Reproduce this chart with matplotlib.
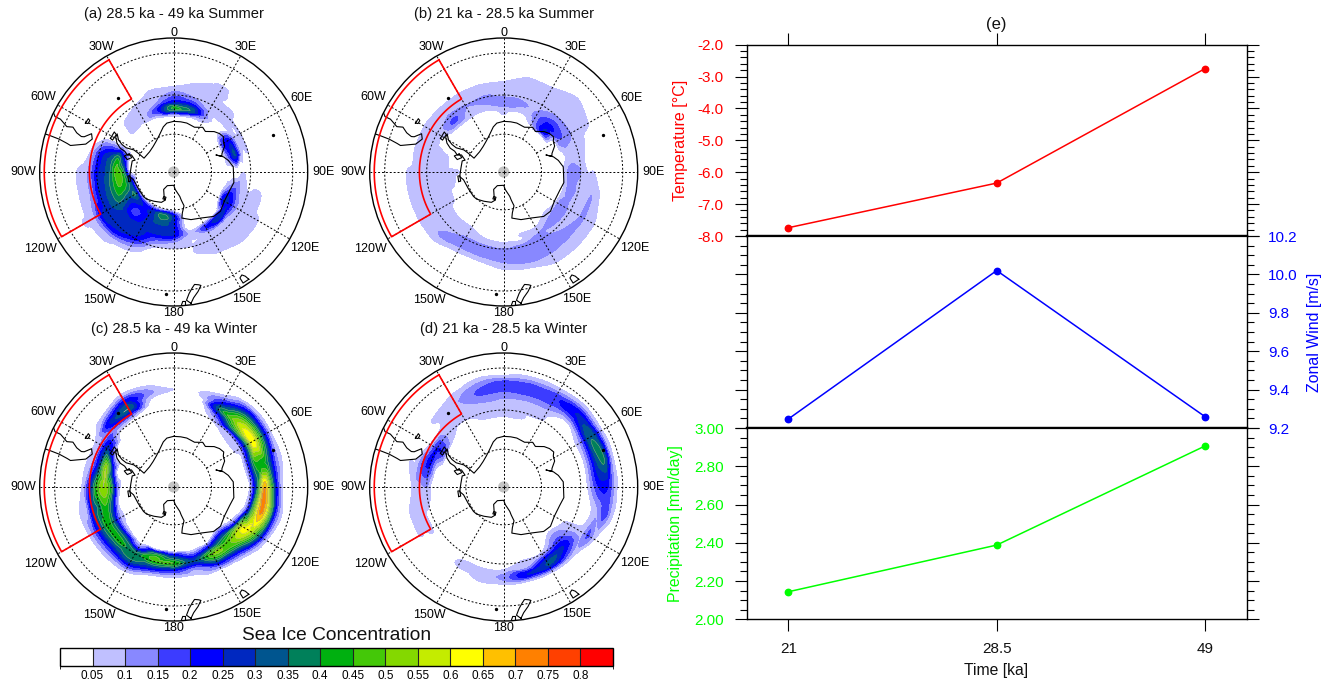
import numpy as np
import matplotlib
matplotlib.use('Agg')
import matplotlib.pyplot as plt
from matplotlib.colors import ListedColormap, BoundaryNorm
from matplotlib.colorbar import ColorbarBase
from matplotlib.patches import Circle
from matplotlib.ticker import MultipleLocator
from matplotlib.tri import Triangulation, UniformTriRefiner, CubicTriInterpolator

plt.rcParams['font.family'] = ['Liberation Sans', 'DejaVu Sans']

W, H = 1334, 682

# sea ice values in percent: one line per longitude (0, 15, ... 345 E),
# one column per latitude (-72.5, -70, ... -47.5)
lons = np.arange(0, 360, 15)
lats = np.array([-75, -72.5, -70, -67.5, -65, -62.5, -60, -57.5, -55, -52.5, -50, -47.5, -45])

sic_a = [
    [0, 0, 8, 42, 22, 14, 7, 0, 0, 0, 0],
    [0, 0, 6, 35, 20, 10, 7, 6, 0, 0, 0],
    [0, 0, 5, 12, 8, 7, 6, 8, 6, 0, 0],
    [0, 0, 0, 0, 7, 6, 5, 0, 0, 0, 0],
    [0, 0, 20, 22, 6, 5, 0, 0, 0, 0, 0],
    [0, 0, 15, 30, 6, 5, 0, 0, 0, 0, 0],
    [0, 0, 0, 0, 5, 0, 0, 0, 0, 0, 0],
    [0, 0, 10, 15, 7, 5, 6, 5, 0, 0, 0],
    [0, 0, 25, 24, 12, 6, 6, 6, 5, 0, 0],
    [0, 0, 0, 30, 8, 6, 6, 6, 5, 0, 0],
    [0, 0, 0, 20, 7, 6, 6, 6, 0, 0, 0],
    [0, 0, 0, 8, 5, 5, 5, 0, 0, 0, 0],
    [25, 25, 25, 24, 10, 5, 0, 0, 0, 0, 0],
    [38, 33, 28, 26, 15, 6, 0, 0, 0, 0, 0],
    [25, 25, 26, 27, 27, 22, 12, 5, 0, 0, 0],
    [25, 20, 18, 25, 28, 27, 22, 9, 5, 0, 0],
    [35, 30, 33, 34, 30, 27, 24, 10, 6, 5, 0],
    [30, 42, 45, 37, 30, 26, 13, 7, 5, 0, 0],
    [5, 40, 48, 35, 28, 23, 12, 7, 5, 0, 0],
    [0, 20, 38, 30, 25, 18, 7, 0, 0, 0, 0],
    [0, 0, 0, 0, 0, 0, 0, 0, 0, 0, 0],
    [0, 0, 6, 6, 5, 0, 0, 0, 0, 0, 0],
    [0, 0, 5, 7, 6, 5, 0, 0, 0, 0, 0],
    [0, 0, 6, 20, 10, 6, 6, 0, 0, 0, 0],
]
sic_b = [
    [0, 0, 5, 8, 15, 8, 6, 5, 0, 0, 0],
    [0, 0, 0, 7, 11, 8, 6, 5, 5, 0, 0],
    [0, 0, 10, 12, 10, 7, 6, 6, 5, 0, 0],
    [0, 0, 25, 22, 16, 10, 6, 6, 6, 5, 0],
    [0, 0, 0, 14, 13, 10, 6, 6, 5, 0, 0],
    [0, 0, 0, 5, 7, 6, 5, 0, 0, 0, 0],
    [0, 0, 0, 10, 13, 10, 5, 5, 0, 0, 0],
    [0, 0, 0, 8, 15, 6, 6, 10, 6, 0, 0],
    [0, 0, 0, 11, 11, 8, 6, 11, 6, 5, 0],
    [0, 0, 5, 10, 12, 7, 11, 11, 6, 5, 0],
    [0, 0, 0, 5, 10, 12, 13, 13, 6, 5, 0],
    [0, 0, 0, 5, 5, 12, 14, 12, 7, 0, 0],
    [0, 0, 0, 0, 5, 10, 14, 10, 5, 0, 0],
    [0, 0, 0, 0, 6, 11, 13, 7, 0, 0, 0],
    [0, 0, 0, 5, 6, 11, 12, 7, 0, 0, 0],
    [0, 0, 0, 5, 6, 6, 10, 10, 5, 0, 0],
    [0, 0, 5, 6, 6, 6, 6, 6, 5, 0, 0],
    [0, 5, 6, 6, 6, 6, 6, 6, 5, 0, 0],
    [5, 6, 6, 6, 6, 6, 6, 6, 5, 0, 0],
    [0, 0, 5, 6, 6, 6, 6, 6, 0, 0, 0],
    [0, 0, 0, 0, 5, 6, 6, 6, 0, 0, 0],
    [0, 0, 0, 5, 16, 12, 6, 5, 0, 0, 0],
    [0, 0, 0, 5, 8, 10, 6, 5, 0, 0, 0],
    [0, 0, 0, 5, 10, 11, 6, 5, 0, 0, 0],
]
sic_c = [
    [0, 0, 0, 0, 0, 0, 0, 0, 5, 0, 0],
    [0, 0, 0, 0, 0, 0, 0, 0, 5, 0, 0],
    [0, 0, 0, 0, 0, 5, 15, 35, 20, 6, 0],
    [0, 0, 0, 0, 5, 10, 40, 55, 45, 25, 6],
    [0, 0, 0, 0, 5, 10, 35, 65, 50, 25, 5],
    [0, 0, 0, 0, 0, 15, 40, 42, 35, 15, 5],
    [0, 0, 0, 0, 0, 8, 35, 70, 45, 15, 0],
    [0, 0, 0, 0, 0, 15, 50, 72, 55, 20, 5],
    [0, 0, 0, 0, 15, 55, 62, 55, 35, 10, 0],
    [0, 0, 0, 15, 35, 48, 45, 25, 8, 0, 0],
    [0, 0, 0, 0, 25, 50, 38, 15, 0, 0, 0],
    [0, 0, 0, 0, 15, 30, 12, 5, 0, 0, 0],
    [0, 0, 0, 0, 30, 45, 20, 5, 0, 0, 0],
    [0, 0, 0, 0, 42, 45, 25, 6, 0, 0, 0],
    [0, 0, 0, 0, 15, 38, 36, 20, 5, 0, 0],
    [0, 0, 0, 10, 35, 42, 30, 15, 5, 0, 0],
    [0, 0, 5, 15, 37, 42, 30, 15, 5, 0, 0],
    [0, 0, 5, 30, 45, 37, 28, 7, 5, 0, 0],
    [0, 0, 15, 45, 55, 45, 25, 7, 0, 0, 0],
    [0, 0, 0, 25, 55, 30, 12, 5, 0, 0, 0],
    [0, 0, 0, 0, 15, 28, 12, 5, 0, 0, 0],
    [0, 0, 0, 0, 0, 5, 15, 25, 10, 0, 0],
    [0, 0, 0, 0, 0, 0, 15, 35, 25, 8, 0],
    [0, 0, 0, 0, 0, 0, 0, 5, 12, 5, 0],
]
sic_d = [
    [0, 0, 0, 0, 5, 6, 8, 11, 16, 17, 5],
    [0, 0, 0, 0, 5, 6, 7, 11, 17, 17, 7],
    [0, 0, 0, 0, 0, 5, 6, 11, 17, 18, 7],
    [0, 0, 0, 0, 0, 0, 0, 5, 18, 25, 10],
    [0, 0, 0, 0, 0, 0, 5, 15, 33, 30, 8],
    [0, 0, 0, 0, 0, 0, 5, 18, 32, 35, 8],
    [0, 0, 0, 0, 0, 0, 5, 15, 22, 20, 7],
    [0, 0, 0, 0, 0, 0, 0, 5, 10, 18, 6],
    [0, 0, 0, 0, 5, 6, 7, 8, 16, 5, 0],
    [0, 0, 0, 5, 12, 18, 25, 18, 6, 0, 0],
    [0, 0, 0, 0, 0, 7, 25, 30, 6, 0, 0],
    [0, 0, 0, 0, 0, 6, 8, 25, 5, 0, 0],
    [0, 0, 0, 0, 0, 0, 6, 12, 5, 0, 0],
    [0, 0, 0, 0, 0, 0, 5, 8, 5, 0, 0],
    [0, 0, 0, 0, 0, 0, 5, 6, 0, 0, 0],
    [0, 0, 0, 0, 0, 0, 0, 0, 0, 0, 0],
    [0, 0, 0, 0, 0, 0, 6, 5, 5, 0, 0],
    [0, 0, 0, 0, 0, 5, 6, 6, 5, 0, 0],
    [0, 0, 0, 0, 0, 10, 8, 6, 0, 0, 0],
    [0, 0, 0, 0, 5, 20, 17, 6, 5, 0, 0],
    [0, 0, 0, 0, 18, 20, 7, 0, 0, 0, 0],
    [0, 0, 0, 0, 5, 7, 6, 5, 6, 0, 0],
    [0, 0, 0, 0, 0, 5, 6, 8, 9, 6, 0],
    [0, 0, 0, 0, 5, 6, 8, 12, 16, 12, 5],
]

panel_titles = ['(a) 28.5 ka - 49 ka Summer', '(b) 21 ka - 28.5 ka Summer',
                '(c) 28.5 ka - 49 ka Winter', '(d) 21 ka - 28.5 ka Winter']
panel_fields = [sic_a, sic_b, sic_c, sic_d]
panel_centers = [(173.7, 172), (503.7, 172), (173.7, 487), (503.7, 487)]
map_radius = 134

lon_labels = ['0', '30E', '60E', '90E', '120E', '150E', '180', '150W', '120W', '90W', '60W', '30W']
lon_label_r = [1.04, 1.075, 1.10, 1.12, 1.13, 1.095, 1.05, 1.105, 1.15, 1.12, 1.12, 1.08]

level_values = [0.05, 0.1, 0.15, 0.2, 0.25, 0.3, 0.35, 0.4, 0.45, 0.5, 0.55, 0.6, 0.65, 0.7, 0.75, 0.8]
level_labels = ['0.05', '0.1', '0.15', '0.2', '0.25', '0.3', '0.35', '0.4', '0.45', '0.5', '0.55',
                '0.6', '0.65', '0.7', '0.75', '0.8']
ice_colors = ['#FFFFFF', '#C0C0FF', '#8888FF', '#3C3CFF', '#0000FF', '#0028C0', '#00558F', '#00805A',
              '#00B010', '#44C808', '#84D800', '#C4EC00', '#FFFF00', '#FFC000', '#FF8000', '#FF4000', '#FF0000']

# coastlines, degrees
ant_lon = [0, 8, 15, 25, 33, 38, 45, 50, 55, 58, 63, 69, 72, 68, 73, 78, 85, 90, 100, 108, 120, 130, 138, 150, 160,
           170, 168, 163, 165, 166, 175, 180, -155, -150, -160, -163, -158, -146, -135, -129, -115, -101, -96,
           -85, -75, -73, -68, -70, -67, -66, -63, -59, -56, -60, -62, -63, -61, -62, -65, -50, -39, -30, -22, -13,
           -8, 0]
ant_lat = [-70, -70, -70, -70.5, -69, -69.7, -67.5, -66.5, -66, -67, -67.5, -69.6, -70, -72, -69.5, -68, -66.5,
           -66.5, -66, -66.8, -67, -66, -66.5, -69, -70, -71.5, -73.5, -76, -78.5, -80, -83, -84.7, -84, -82,
           -79, -78.3, -77, -76, -74.8, -74.6, -74.5, -73.8, -72.5, -73, -73, -74, -72, -70.5, -69, -67, -65,
           -63.5, -63.3, -65, -67, -69, -72, -74, -77, -77.5, -77, -76, -74.5, -71.7, -70.5, -70]
sam_lon = [-63.7, -65, -65, -67, -66, -68, -69, -68.5, -65, -68, -72.4, -75.6, -75, -74, -73.6, -73.5]
sam_lat = [-40, -41, -43, -46, -48, -50, -52, -53, -55, -56, -54.4, -49.3, -48, -45, -41.7, -40]
nz_lon = [172.5, 174.3, 172.8, 171, 169.5, 167.5, 166.5, 168.5, 171, 172.5]
nz_lat = [-40.5, -41.7, -43.8, -45.5, -46.6, -46.2, -45.8, -44, -42.2, -40.5]
nzn_lon = [174.8, 176, 176.8, 175, 174.8]
nzn_lat = [-41.3, -41.4, -40, -39.5, -41.3]
tas_lon = [145, 148, 148, 146.5, 145.5, 145]
tas_lat = [-41, -41, -43, -43.5, -42.5, -41]
fal_lon = [-61, -58, -58.5, -60.5, -61]
fal_lat = [-51.3, -51.4, -52.2, -52.2, -51.3]
# small loops by the Antarctic coast: Alexander, Thurston, Roosevelt, King George
alx_lon = [-68, -72, -75, -71, -68]
alx_lat = [-71, -69.5, -71, -72.5, -71]
thu_lon = [-102, -95, -95, -102, -102]
thu_lat = [-71.8, -71.8, -72.6, -72.6, -71.8]
roo_lon = [-163, -158, -158, -163, -163]
roo_lat = [-78.5, -78.5, -79.5, -79.5, -78.5]
kgi_lon = [-62, -56, -57, -62.5, -62]
kgi_lat = [-62, -62, -63.2, -63, -62]
isl_lon = [-37, 69.6, -176.5]
isl_lat = [-54.3, -49.4, -44]

# red box on the maps
box_lon = [-30, -120]
box_lat = [-41.5, -57.3]

# panel (e)
time_labels = ['21', '28.5', '49']
temperature = [-7.74, -6.34, -2.75]
zonal_wind = [9.247, 10.02, 9.259]
precipitation = [2.144, 2.388, 2.906]


def px_axes(x0, y0, x1, y1):
    return fig.add_axes([x0 / W, 1 - y1 / H, (x1 - x0) / W, (y1 - y0) / H])


def polar_xy(lon, lat):
    lon = np.radians(np.asarray(lon, dtype=float))
    r = np.tan(np.radians(90 + np.asarray(lat, dtype=float)) / 2) / np.tan(np.radians(25))
    return r * np.sin(lon), r * np.cos(lon)


fig = plt.figure(figsize=(W / 100, H / 100), dpi=100)
fig.patch.set_facecolor('white')

coast_parts = [(ant_lon, ant_lat), (sam_lon, sam_lat), (nz_lon, nz_lat), (nzn_lon, nzn_lat), (tas_lon, tas_lat),
               (fal_lon, fal_lat), (alx_lon, alx_lat), (thu_lon, thu_lat), (roo_lon, roo_lat), (kgi_lon, kgi_lat)]

for title, field, (cx, cy) in zip(panel_titles, panel_fields, panel_centers):
    ax = px_axes(cx - map_radius, cy - map_radius, cx + map_radius, cy + map_radius)
    ax.set_xlim(-1, 1)
    ax.set_ylim(-1, 1)
    ax.axis('off')

    vals = np.pad(np.array(field, dtype=float) / 100, ((0, 0), (1, 1)))
    lon2, lat2 = np.meshgrid(lons, lats, indexing='ij')
    X, Y = polar_xy(lon2, lat2)
    tri = Triangulation(X.ravel(), Y.ravel())
    interp = CubicTriInterpolator(tri, vals.ravel(), kind='geom')
    tri_fine, vals_fine = UniformTriRefiner(tri).refine_field(vals.ravel(), triinterpolator=interp, subdiv=2)
    ax.tricontourf(tri_fine, vals_fine, levels=level_values + [1.0], colors=ice_colors[1:])
    ax.tricontour(tri_fine, vals_fine, levels=level_values[6:], colors='#9aa89a', linewidths=0.3)

    rim = Circle((0, 0), 1, transform=ax.transData, fc='none', ec='black', lw=1.0, zorder=6, clip_on=False)
    ax.add_patch(rim)
    ax.add_patch(Circle((0, 0), 0.042, fc='#c4c4c4', ec='none', zorder=3))

    # coast
    for clon, clat in coast_parts:
        xc, yc = polar_xy(clon, clat)
        line, = ax.plot(xc, yc, color='black', lw=0.8, zorder=4)
        line.set_clip_path(Circle((0, 0), 1, transform=ax.transData))
    xi, yi = polar_xy(isl_lon, isl_lat)
    ax.plot(xi, yi, 'o', color='black', ms=1.4, zorder=4)

    # grid
    for ring in [-75, -60, -45]:
        xr, yr = polar_xy(np.arange(0, 361, 3), np.full(121, ring))
        ax.plot(xr, yr, color='black', lw=0.7, ls=(0, (2, 2)), zorder=5)
    for i, lab in enumerate(lon_labels):
        lon = i * 30
        inner = -90 if lon % 90 == 0 else -75
        xg, yg = polar_xy([lon, lon], [inner, -40])
        ax.plot(xg, yg, color='black', lw=0.7, ls=(0, (2, 2)), zorder=5)
        xt, yt = polar_xy(lon, -40)
        ax.text(xt * lon_label_r[i], yt * lon_label_r[i], lab, ha='center', va='center', fontsize=9, clip_on=False)

    # red box
    bx = np.r_[np.linspace(box_lon[0], box_lon[1], 61), np.linspace(box_lon[1], box_lon[0], 61), box_lon[0]]
    by = np.r_[np.full(61, box_lat[0]), np.full(61, box_lat[1]), box_lat[0]]
    xb, yb = polar_xy(bx, by)
    ax.plot(xb, yb, color='red', lw=1.2, zorder=7)

    fig.text(cx / W, 1 - (cy - 158) / H, title, ha='center', va='center', fontsize=10.6, color='#111111')

# colorbar
cax = px_axes(60, 648, 613, 666)
bounds = [0.0] + level_values + [0.85]
cb = ColorbarBase(cax, cmap=ListedColormap(ice_colors), norm=BoundaryNorm(bounds, 17), boundaries=bounds,
                  spacing='uniform', orientation='horizontal', ticks=level_values, drawedges=True)
cb.ax.set_xticklabels(level_labels, fontsize=8.5)
cb.ax.tick_params(length=0, pad=3)
cb.outline.set_linewidth(1.0)
cb.dividers.set_linewidth(0.8)
cb.dividers.set_color('#222222')
fig.text(337 / W, 1 - 636 / H, 'Sea Ice Concentration', ha='center', va='center', fontsize=13.8, color='#111111')

# panel (e)
x0, x1 = 746.7, 1246.7
ytop, y1, y2, ybot = 44.7, 236, 428, 619.3
ax1 = px_axes(x0, ytop, x1, y1)
ax2 = px_axes(x0, y1, x1, y2)
ax3 = px_axes(x0, y2, x1, ybot)
xpos = [0, 1, 2]
ax1.plot(xpos, temperature, '-o', color='red', lw=1.1, ms=4.6, clip_on=False)
ax2.plot(xpos, zonal_wind, '-o', color='blue', lw=1.1, ms=4.6, clip_on=False)
ax3.plot(xpos, precipitation, '-o', color='#00FF00', lw=1.1, ms=4.6, clip_on=False)
ax1.set_ylim(-8, -2)
ax2.set_ylim(9.2, 10.2)
ax3.set_ylim(2, 3)
ax1.yaxis.set_minor_locator(MultipleLocator(0.2))
for a in [ax2, ax3]:
    a.yaxis.set_minor_locator(MultipleLocator(0.05))
for a in [ax1, ax2, ax3]:
    a.set_xlim(-0.2, 2.2)
    a.set_xticks(xpos)
    a.tick_params(axis='y', which='major', direction='out', length=8.6, width=0.8, left=True, right=True, labelsize=11)
    a.tick_params(axis='y', which='minor', direction='out', length=5, width=0.8, left=True, right=True)
    a.tick_params(axis='x', which='major', direction='out', length=8.6, width=0.8, bottom=False, labelbottom=False)
    for s in a.spines.values():
        s.set_linewidth(1.0)
ax1.spines['bottom'].set_linewidth(1.6)
ax2.spines['top'].set_linewidth(1.6)
ax2.spines['bottom'].set_linewidth(1.6)
ax3.spines['top'].set_linewidth(1.6)
ax1.tick_params(axis='x', top=True)
ax3.tick_params(axis='x', bottom=True, labelbottom=True, labelsize=11, pad=8)
ax3.set_xticklabels(time_labels, color='#111111')
ax1.tick_params(axis='y', which='major', labelcolor='red', labelleft=True, labelright=False, pad=8)
ax2.tick_params(axis='y', which='major', labelcolor='blue', labelleft=False, labelright=True, pad=7)
ax3.tick_params(axis='y', which='major', labelcolor='#00FF00', labelleft=True, labelright=False, pad=8)
ax1.set_yticks(np.arange(-8, -1, 1))
ax1.set_yticklabels(['-8.0', '-7.0', '-6.0', '-5.0', '-4.0', '-3.0', '-2.0'])
ax2.set_yticks(np.arange(9.2, 10.3, 0.2))
ax2.set_yticklabels(['9.2', '9.4', '9.6', '9.8', '10.0', '10.2'])
ax3.set_yticks(np.arange(2, 3.1, 0.2))
ax3.set_yticklabels(['2.00', '2.20', '2.40', '2.60', '2.80', '3.00'])

fig.text(680 / W, 1 - 140 / H, 'Temperature [°C]', rotation=90, ha='center', va='center', fontsize=11.5, color='red')
fig.text(1314 / W, 1 - 332 / H, 'Zonal Wind [m/s]', rotation=90, ha='center', va='center', fontsize=11.4, color='blue')
fig.text(675 / W, 1 - 524 / H, 'Precipitation [mm/day]', rotation=90, ha='center', va='center', fontsize=11.4, color='#00FF00')
fig.text(996 / W, 1 - 671 / H, 'Time [ka]', ha='center', va='center', fontsize=11.3, color='#111111')
fig.text(996 / W, 1 - 24 / H, '(e)', ha='center', va='center', fontsize=12, color='#111111')

fig.savefig('out.png', dpi=100)
